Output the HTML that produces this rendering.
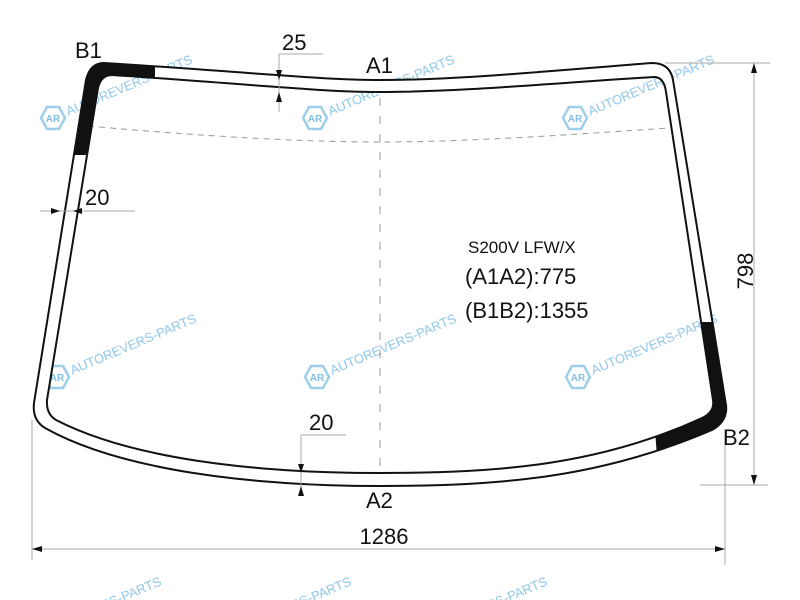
<!DOCTYPE html>
<html><head><meta charset="utf-8"><style>
html,body{margin:0;padding:0;background:#fff;width:800px;height:600px;overflow:hidden}
svg{display:block;overflow:hidden}
text{font-family:"Liberation Sans",Arial,sans-serif}
</style></head><body>
<svg width="800" height="600" viewBox="0 0 800 600" xmlns="http://www.w3.org/2000/svg">
<defs>
<clipPath id="c1"><polygon points="0,0 155,0 155,95 90,155 0,155"/></clipPath>
<clipPath id="c2"><polygon points="800,322 690,322 690,400 655,430 658,470 800,470"/></clipPath>
<g id="wm">
 <polygon points="-6,-11 6,-11 12,0 6,11 -6,11 -12,0" fill="none" stroke="#8ec6e8" stroke-width="2.5"/>
 <text x="0" y="4" font-size="10" fill="#6fb3e0" text-anchor="middle" font-weight="bold">AR</text>
 <text x="15" y="4" font-size="13" fill="#7dbde6" transform="rotate(-23)">AUTOREVERS-PARTS</text>
</g>
<path id="shape" d="M86,80 Q90,63 104,63 C250,72 320,80 380,80 C460,80 560,70 652,63 Q670,63 673,80 L726,405 Q728,421 712,430 C600,478 500,486 380,486 C250,486 120,470 45,428 Q32,420 34,403 Z M98,88 Q101,75 112,75 C250,84 320,92 380,92 C460,92 555,83 654,77 Q664,77 666,92 L713,400 Q715,412 702,418 C600,465 500,473 380,473 C250,473 130,458 56,420 Q46,414 47,400 Z"/>
</defs>

<g opacity="0.85">
<use href="#wm" x="53" y="118"/>
<use href="#wm" x="315" y="118"/>
<use href="#wm" x="575" y="118"/>
<use href="#wm" x="57" y="377"/>
<use href="#wm" x="317" y="377"/>
<use href="#wm" x="578" y="377"/>
<use href="#wm" x="22" y="640"/>
<use href="#wm" x="212" y="640"/>
<use href="#wm" x="408" y="640"/>
</g>

<line x1="380" y1="98" x2="380" y2="472" stroke="#999" stroke-width="1" stroke-dasharray="8,10"/>
<path d="M88,126 C200,136 300,142 380,142 C470,142 580,134 668,128" fill="none" stroke="#999" stroke-width="1" stroke-dasharray="6,5"/>

<use href="#shape" fill="#fff" fill-rule="evenodd"/>
<g fill="#111" fill-rule="evenodd">
<use href="#shape" clip-path="url(#c1)"/>
<use href="#shape" clip-path="url(#c2)"/>
</g>
<use href="#shape" fill="none" stroke="#111" stroke-width="2"/>

<g stroke="#aaa" stroke-width="1" fill="none">
 <line x1="279" y1="54" x2="279" y2="112"/><line x1="279" y1="54" x2="323" y2="54"/>
 <line x1="40" y1="211" x2="135" y2="211"/>
 <line x1="301" y1="435" x2="301" y2="492"/><line x1="301" y1="435" x2="346" y2="435"/>
 <line x1="665" y1="63" x2="770" y2="63"/><line x1="700" y1="485" x2="768" y2="485"/>
 <line x1="754" y1="63" x2="754" y2="485"/>
 <line x1="32" y1="420" x2="32" y2="560"/><line x1="725" y1="430" x2="725" y2="565"/>
 <line x1="32" y1="549" x2="725" y2="549"/>
</g>
<g fill="#111">
 <polygon points="276,70 282,70 279,80"/><polygon points="276,102 282,102 279,92"/>
 <polygon points="51,208 51,214 60,211"/><polygon points="82,208 82,214 73,211"/>
 <polygon points="298,464 304,464 301,473"/><polygon points="298,496 304,496 301,486"/>
 <polygon points="751,73 757,73 754,63"/><polygon points="751,475 757,475 754,485"/>
 <polygon points="42,546 42,552 32,549"/><polygon points="715,546 715,552 725,549"/>
</g>

<g fill="#111">
<text x="75" y="58" font-size="22">B1</text>
<text x="282" y="50" font-size="22">25</text>
<text x="366" y="73" font-size="22">A1</text>
<text x="85" y="205" font-size="22">20</text>
<text x="309" y="430" font-size="22">20</text>
<text x="366" y="508" font-size="22">A2</text>
<text x="384" y="544" font-size="22" text-anchor="middle">1286</text>
<text x="723" y="445" font-size="22">B2</text>
<text transform="translate(753,271) rotate(-90)" font-size="22" text-anchor="middle">798</text>
<text x="468" y="253" font-size="17">S200V LFW/X</text>
<text x="465" y="284" font-size="22">(A1A2):775</text>
<text x="465" y="318" font-size="22">(B1B2):1355</text>
</g>
</svg>
</body></html>
